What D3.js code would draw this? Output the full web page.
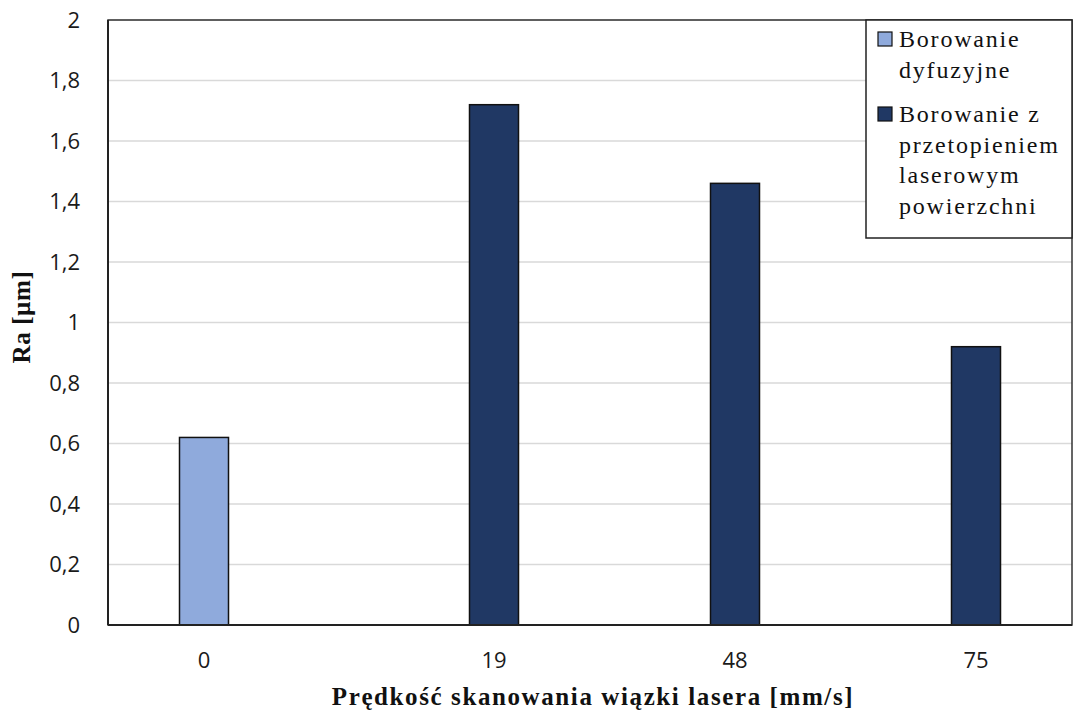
<!DOCTYPE html>
<html><head><meta charset="utf-8">
<script src="https://cdn.jsdelivr.net/npm/d3@7"></script>
<style>body{margin:0;background:#fff}</style>
</head><body>
<svg id="c" width="1073" height="715"></svg>
<script>
const categories = ["0", "19", "48", "75"];
const seriesNames = ["Borowanie dyfuzyjne", "Borowanie z przetopieniem laserowym powierzchni"];
const diffusionValues = [0.62, null, null, null];
const laserValues = [null, 1.72, 1.46, 0.92];
const yTicks = [0, 0.2, 0.4, 0.6, 0.8, 1, 1.2, 1.4, 1.6, 1.8, 2];
const colors = ["#8faadc", "#203864"];
const legendLines = [["Borowanie", "dyfuzyjne"], ["Borowanie z", "przetopieniem", "laserowym", "powierzchni"]];

const svg = d3.select("#c");
const m = {l:108, r:1072, t:20, b:625};
const x = d3.scaleBand().domain(categories).range([m.l, m.r]).paddingInner(0).paddingOuter(0);
const y = d3.scaleLinear().domain([0,2]).range([m.b, m.t]);

// gridlines
svg.append("g").selectAll("line").data(yTicks.slice(1)).join("line")
  .attr("x1", m.l).attr("x2", m.r).attr("y1", d=>y(d)).attr("y2", d=>y(d))
  .attr("stroke", "#d9d9d9").attr("stroke-width", 1.5);

// y axis labels
const fmt = d => String(d).replace(".", ",");
svg.append("g").selectAll("text").data(yTicks).join("text")
  .attr("x", 80).attr("y", d=>y(d)).attr("dy", "0.36em").attr("text-anchor","end")
  .attr("font-family","'Open Sans', sans-serif").attr("font-size", 22).attr("fill","#1a1a1a")
  .text(fmt);

const series = [diffusionValues, laserValues];
const bars = [];
series.forEach((vals, si) => vals.forEach((v, i) => { if (v != null) bars.push({cat: categories[i], s: si, v}); }));
const bw = 49;
const barX = d => x(d.cat) + x.bandwidth()/2 + (d.s === 0 ? -bw : 0);
svg.append("g").selectAll("rect").data(bars).join("rect")
  .attr("x", barX).attr("width", bw)
  .attr("y", d=>y(d.v)).attr("height", d=>y(0)-y(d.v))
  .attr("fill", d=>colors[d.s]).attr("stroke", "#111").attr("stroke-width", 1.5);

// x labels at bar centers
svg.append("g").selectAll("text").data(bars).join("text")
  .attr("x", d=>barX(d)+bw/2).attr("y", 660).attr("dy","0.36em").attr("text-anchor","middle")
  .attr("font-family","'Open Sans', sans-serif").attr("font-size", 22).attr("fill","#1a1a1a")
  .text(d=>d.cat);

// frame
svg.append("rect").attr("x", m.l).attr("y", m.t).attr("width", m.r-m.l).attr("height", m.b-m.t)
  .attr("fill","none").attr("stroke","#333").attr("stroke-width",1.5);
svg.append("line").attr("x1", m.l).attr("x2", m.r).attr("y1", m.b).attr("y2", m.b).attr("stroke","#222").attr("stroke-width",2);
svg.append("line").attr("x1", m.l).attr("x2", m.l).attr("y1", m.t).attr("y2", m.b).attr("stroke","#222").attr("stroke-width",2);

// axis titles
svg.append("text").attr("transform","translate(30,317) rotate(-90)").attr("text-anchor","middle")
  .attr("font-family","'Liberation Serif', 'Times New Roman', serif").attr("font-weight","bold").attr("font-size", 25)
  .attr("letter-spacing", 0.6).attr("fill","#111").text("Ra [µm]");
svg.append("text").attr("x", 593).attr("y", 705).attr("text-anchor","middle")
  .attr("font-family","'Liberation Serif', 'Times New Roman', serif").attr("font-weight","bold").attr("font-size", 25)
  .attr("letter-spacing", 1.6).attr("fill","#111").text("Prędkość skanowania wiązki lasera [mm/s]");

// legend
const lg = svg.append("g");
lg.append("rect").attr("x", 866).attr("y", 20).attr("width", 206).attr("height", 218)
  .attr("fill","#fff").attr("stroke","#222").attr("stroke-width",1.5);
const lineH = 30.5;
const groupStarts = [47, 122];
legendLines.forEach((lines, i) => {
  const ly = groupStarts[i];
  lg.append("rect").attr("x", 878).attr("y", ly-15).attr("width", 14).attr("height", 14)
    .attr("fill", colors[i]).attr("stroke","#111").attr("stroke-width",1.2);
  lines.forEach((t, j) => {
    lg.append("text").attr("x", 899).attr("y", ly + j*lineH)
      .attr("font-family","'Liberation Serif', 'Times New Roman', serif").attr("font-size", 24)
      .attr("letter-spacing", 1.8).attr("fill","#111").text(t);
  });
});
</script>
</body></html>
